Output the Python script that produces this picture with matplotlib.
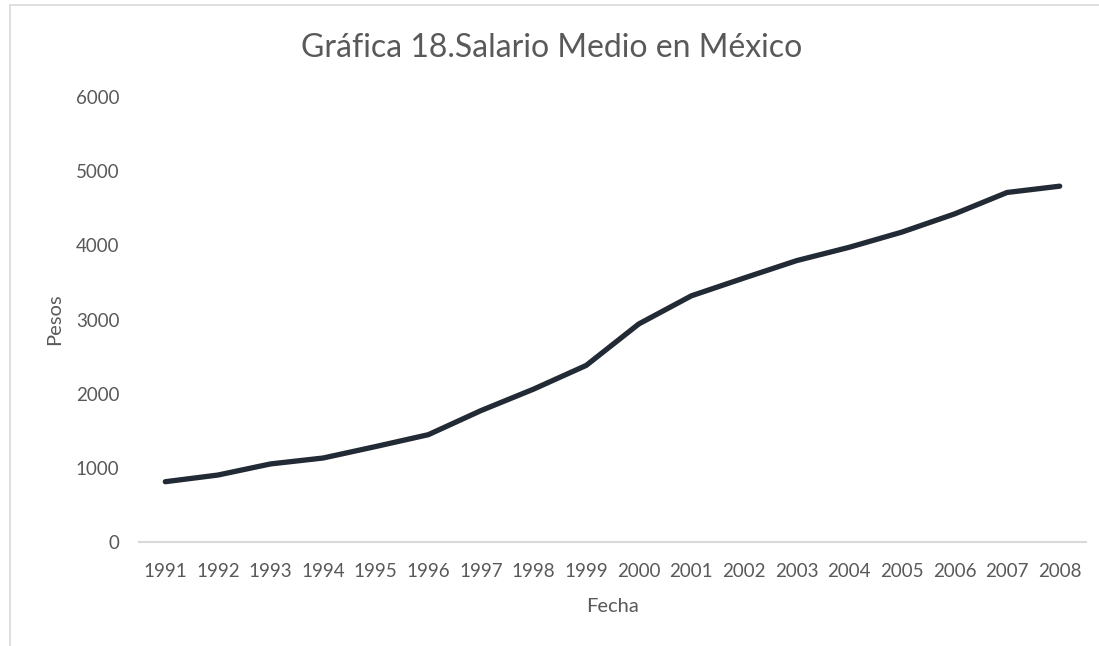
import matplotlib
matplotlib.use("Agg")
import matplotlib.pyplot as plt
from matplotlib.patches import Rectangle

years = [str(y) for y in range(1991, 2009)]
salario = [810, 900, 1050, 1130, 1285, 1445, 1770, 2060, 2380, 2940,
           3320, 3560, 3795, 3975, 4180, 4425, 4715, 4800]
yticks = [0, 1000, 2000, 3000, 4000, 5000, 6000]

plt.rcParams['font.family'] = ['Lato', 'DejaVu Sans']
gray = '#595959'

fig = plt.figure(figsize=(10.99, 6.46), dpi=100)
fig.patch.set_facecolor('white')
fig.patches.append(Rectangle((10/1099, -0.01), 1.1, 1 - 5/646 + 0.01,
                             transform=fig.transFigure, fill=False,
                             edgecolor='#d9d9d9', linewidth=1.2))

ax = fig.add_axes([139/1099, 1 - 541.7/646, (1086 - 139)/1099, (541.7 - 97.3)/646])
x = list(range(len(years)))
ax.plot(x, salario, color='#222a35', linewidth=3.8, solid_capstyle='round',
        solid_joinstyle='round', zorder=3)
ax.set_xlim(-0.5, len(years) - 0.5)
ax.set_ylim(0, 6000)
ax.set_xticks(x)
ax.set_xticklabels(years)
ax.set_yticks(yticks)
ax.set_yticklabels([str(v) for v in yticks])
for s in ['top', 'right', 'left']:
    ax.spines[s].set_visible(False)
ax.spines['bottom'].set_color('#d9d9d9')
ax.spines['bottom'].set_linewidth(1.5)
ax.tick_params(axis='both', length=0, colors=gray, labelsize=13.5)
ax.tick_params(axis='y', pad=14)
ax.tick_params(axis='x', pad=15)
ax.set_xlabel('Fecha', color=gray, fontsize=14.5, labelpad=13)
ax.set_ylabel('Pesos', color=gray, fontsize=14.5, labelpad=9)
fig.text(552/1099, 1 - 48/646, 'Gráfica 18.Salario Medio en México', ha='center',
         va='center', color=gray, fontsize=23)

fig.savefig('out.png', dpi=100, facecolor='white')
